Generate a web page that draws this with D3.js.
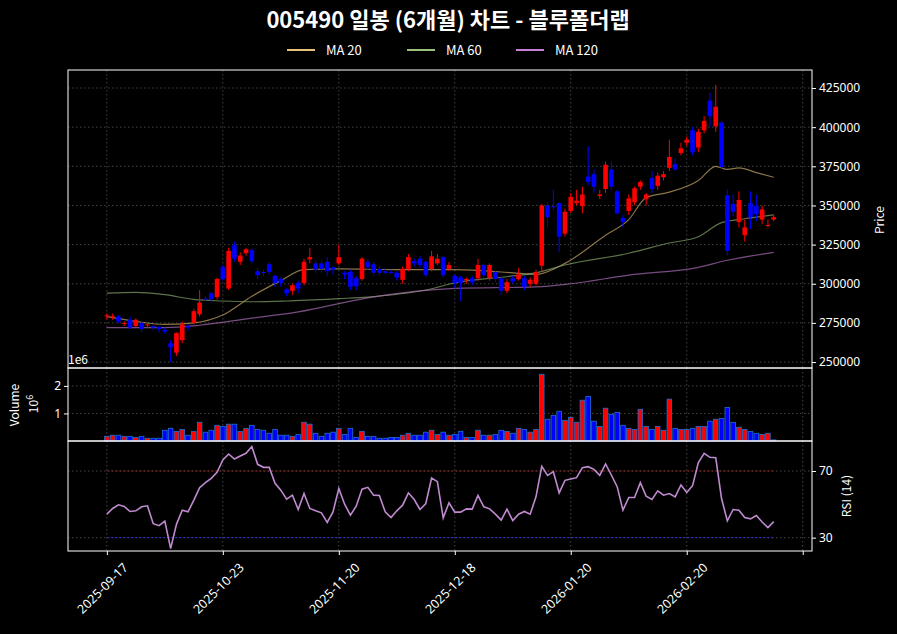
<!DOCTYPE html>
<html><head><meta charset="utf-8">
<script src="https://cdn.jsdelivr.net/npm/d3@7/dist/d3.min.js"></script>
<style>body{margin:0;background:#000}svg{display:block;font-family:"Noto Sans CJK KR","Noto Sans",sans-serif}</style>
</head><body><svg id="c" width="897" height="634"></svg>
<script>
const title="005490 일봉 (6개월) 차트 - 블루폴더랩";
const dateLabels=["2025-09-17","2025-10-23","2025-11-20","2025-12-18","2026-01-20","2026-02-20"];
const priceTicks=[250000,275000,300000,325000,350000,375000,400000,425000];
const opens=[279.5,279,279,274.5,277,273,275,273.5,273,272.5,270.5,262,256,264,273,275,280.5,290.5,294,291.5,310.5,297,324.5,314,319.5,321.5,308,307.5,312.5,305,303,296.5,295.5,300.5,300.5,315.5,313,313,314,310.5,313,307,307.5,303.5,303,314,312.5,309.5,308,307.5,307,302.5,309.5,314.5,316,314,309.5,313,317,309.5,305,304,302.5,303.5,303.5,312,303.5,307.5,303.5,295.5,303.5,303,303.5,300,300,311.5,350,349.5,351.5,332,346.5,351.5,349.5,368.5,370,356,360.5,373,359,342,346.5,352,362,354,367.5,362.5,368,374,376.5,383.5,390,398,387,398,417,400.5,403,356.5,351,339.5,331,351.5,349.5,341,337,341];
const closes=[279.8,279.2,276,275,272,277,271,274,272,271,269.5,259.5,268.5,274,272,282.5,288,290,290,303,303,321,316,318,322,314.5,305.5,307,307.5,300.5,300.5,294,299,297,314,317,309,309.5,308,309,317,306,298,298.5,316,310.5,307,307,307,307,304,309.5,317,313,312,305.5,317.5,316,305.5,312,300.5,300.5,303,301,312,305.5,312,303,295.5,301,301.5,306,298,302.5,307.5,350,342.5,349,330,346,355.5,353,357,365,362,357,376,362,345,339.5,354.5,361,365,357,360.5,369,370,381,373,386.5,392,384,397,404,407,413,374.5,321,346,353.5,336,342.5,344.5,347.5,337.5,342.5];
const highs=[281,281,280,276,279,278,276,275,274,273,272,264,269,276,274,284,296,292,295,304,312,323,327,320,323,323,310,309,314,306,304,297,300,302,316,323,315,315,317,311,325,308,309,305,317,316,314,311,310,309,308,311,319,316,318,315,321,319,318,314,306,305,304,305,316,313,313,308,305,303,305,310,305,304,309,351,352,360,352,348,358,360,362,388,373,360,378,378,360,344,357,362,366,358,372,371,372,392,380,390,394,400,399,407,422,427,404,360,357,359,341,359,357,350,341,344];
const lows=[277,277,275,273,271,272,269,272,270,269,268,250,254,262,270,274,279,289,288,290,302,296,314,312,318,313,303,305,306,298,298,292,293,294,299,313,307,307,305,306,312,303,296,296,302,309,305,305,306,306,302,300,308,311,310,304,308,312,304,308,297,289,300,299,302,304,302,301,293,294,300,302,296,298,299,308,336,347,320,330,345,350,345,363,358,354,358,360,344,336,344,350,360,350,358,360,366,372,372,382,388,382,384,396,400,397,373,318,343,336,327,335,340,338,336,340];
const volumes=[0.17,0.21,0.21,0.17,0.17,0.13,0.17,0.10,0.10,0.10,0.39,0.46,0.35,0.42,0.21,0.35,0.68,0.32,0.39,0.57,0.53,0.61,0.61,0.35,0.46,0.57,0.42,0.39,0.28,0.42,0.21,0.21,0.17,0.24,0.68,0.61,0.28,0.17,0.28,0.32,0.46,0.24,0.46,0.13,0.35,0.17,0.17,0.10,0.10,0.13,0.13,0.21,0.28,0.21,0.21,0.32,0.39,0.24,0.32,0.21,0.24,0.35,0.13,0.13,0.39,0.21,0.21,0.24,0.39,0.35,0.28,0.46,0.42,0.32,0.42,2.42,0.79,0.93,1.08,0.75,0.86,0.68,1.48,1.62,0.72,0.53,1.19,0.97,1.04,0.57,0.46,0.42,1.15,0.53,0.42,0.53,0.39,1.52,0.46,0.42,0.42,0.46,0.53,0.53,0.72,0.79,0.82,1.22,0.68,0.50,0.42,0.35,0.28,0.24,0.28,0.04];
const rsi=[44.1,47.5,49.7,48.7,45.7,46.1,48.5,49.1,38.4,37.2,39.9,23.4,38,46.5,45.5,52.5,60,63,65.6,69.2,76.6,80.2,77.2,79,80.6,84.7,74,72.2,72.2,62.6,58.5,53.1,55.5,46.9,56.5,47.5,46.1,44.9,39.2,45.5,59.5,50.1,43.5,48.9,59.1,60.2,55.5,55.3,45.5,42.1,46.1,49.5,56.9,52.9,46.9,50.5,65.8,63.6,41.9,50.9,45.3,45.3,47.3,47.1,55.3,48.5,47.3,44.1,40.5,47.1,40.3,44.1,45.7,44.1,54.5,72.8,67.4,69.6,56.9,64.4,65.2,66,72,72.6,71,67.4,74.2,67.6,60.6,46.5,54.1,54.1,63,54.9,52.9,58.1,55.5,56.5,54.5,61.6,57.1,61.2,75,80.6,78.2,78,53.5,40.1,46.9,46.5,42.1,41.3,43.3,39.4,36,39.6];
const ma20Idx=[0,5,10,15,20,25,30,34,40,50,60,70,74,79,86,90,93,97,102,105,107,109,112,115];
const ma20Val=[279,276,274,275,280,292,302,309,309.5,309,309,307,306,313,331,341,355,358.5,366,375,373,374,371,368];
const ma60Idx=[0,5,10,15,20,25,31,40,45,55,60,70,74,79,90,97,102,106,110,115];
const ma60Val=[294,294.5,293,290,289,288.5,289,290.5,291.5,296,300.5,305,307,312,319.5,326,330,339,341.5,344];
const ma120Idx=[0,10,16,25,33,45,60,74,80,90,102,107,115];
const ma120Val=[272,272,273.5,278,282,291,297,298,300,305.5,310.5,315,320];

const svg=d3.select("#c");
const L=68,R=812,pT=70,pB=368,vB=441,rB=551;
const x=d3.scaleLinear().domain([-6.7,121.6]).range([L,R]);
const yP=d3.scaleLinear().domain([246.2,436.5]).range([pB,pT]);
const yV=d3.scaleLinear().domain([0,2.65]).range([vB,pB]);
const yR=d3.scaleLinear().domain([22,88]).range([rB,vB]);
const n=closes.length, idx=d3.range(n);
const gridC="#555", txt="#fff";
function grid(y0,y1,ys,ysc){
  const g=svg.append("g");
  d3.range(0,121,20).forEach(i=>g.append("line").attr("x1",x(i)).attr("x2",x(i)).attr("y1",y0).attr("y2",y1).attr("stroke",gridC).attr("stroke-dasharray","1.5,2.5").attr("stroke-width",0.8));
  ys.forEach(v=>g.append("line").attr("x1",L).attr("x2",R).attr("y1",ysc(v)).attr("y2",ysc(v)).attr("stroke",gridC).attr("stroke-dasharray","1.5,2.5").attr("stroke-width",0.8));
}
grid(pT,pB,priceTicks,v=>yP(v/1000));
grid(pB,vB,[1,2],yV);
grid(vB,rB,[30,70],yR);
svg.append("line").attr("x1",x(0)).attr("x2",x(115)).attr("y1",yR(70)).attr("y2",yR(70)).attr("stroke","#d02020").attr("stroke-dasharray","2,2").attr("opacity",0.7);
svg.append("line").attr("x1",x(0)).attr("x2",x(115)).attr("y1",yR(30)).attr("y2",yR(30)).attr("stroke","#3030ff").attr("stroke-dasharray","2,2").attr("opacity",0.9);
const col=i=>closes[i]>=opens[i]?"#ff0000":"#0000ff";
const maLine=(I,V,c)=>svg.append("path").attr("d",d3.line().x(d=>x(d[0])).y(d=>yP(d[1])).curve(d3.curveMonotoneX)(I.map((k,j)=>[k,V[j]]))).attr("fill","none").attr("stroke",c).attr("stroke-width",1.2).attr("opacity",0.6);
maLine(ma20Idx,ma20Val,"#e6c27a");maLine(ma60Idx,ma60Val,"#9bc27a");maLine(ma120Idx,ma120Val,"#c77fd6");
const cg=svg.append("g");
idx.forEach(i=>{
  cg.append("line").attr("x1",x(i)).attr("x2",x(i)).attr("y1",yP(highs[i])).attr("y2",yP(lows[i])).attr("stroke",col(i)).attr("stroke-width",1);
  const t=yP(Math.max(opens[i],closes[i])),b=yP(Math.min(opens[i],closes[i]));
  cg.append("rect").attr("x",x(i)-2.3).attr("width",4.6).attr("y",t).attr("height",Math.max(1,b-t)).attr("fill",col(i));
});
idx.forEach(i=>svg.append("rect").attr("x",x(i)-2.3).attr("width",4.6).attr("y",yV(volumes[i])).attr("height",vB-yV(volumes[i])).attr("fill",col(i)).attr("stroke","#1f6fd0").attr("stroke-width",0.8));
svg.append("path").attr("d",d3.line().x((d,i)=>x(i)).y(d=>yR(d))(rsi)).attr("fill","none").attr("stroke","#c08ad0").attr("stroke-width",1.6);
[[pT,pB],[pB,vB],[vB,rB]].forEach(([a,b])=>svg.append("rect").attr("x",L).attr("y",a).attr("width",R-L).attr("height",b-a).attr("fill","none").attr("stroke","#fff").attr("stroke-width",1));
const ax=(g,a)=>{g.call(a);g.selectAll("path").remove();g.selectAll("line").attr("stroke","#fff");g.selectAll("text").attr("fill",txt).style("font-size","12px").style("font-family","'Noto Sans',sans-serif");return g;};
ax(svg.append("g").attr("transform",`translate(${R},0)`),d3.axisRight(d3.scaleLinear().domain(yP.domain().map(v=>v*1000)).range(yP.range())).tickValues(priceTicks).tickFormat(d3.format("d")).tickSize(4));
ax(svg.append("g").attr("transform",`translate(${L},0)`),d3.axisLeft(yV).tickValues([1,2]).tickFormat(d3.format("d")).tickSize(4));
ax(svg.append("g").attr("transform",`translate(${R},0)`),d3.axisRight(yR).tickValues([30,70]).tickSize(4));
const xg=ax(svg.append("g").attr("transform",`translate(0,${rB})`),d3.axisBottom(x).tickValues(d3.range(0,121,20)).tickFormat((d,i)=>dateLabels[i]||"").tickSize(4));
xg.selectAll("text").attr("text-anchor","end").attr("transform","translate(12,8) rotate(-45)").attr("dy","0.5em").style("font-size","12.5px");
const t=(s,xx,yy,o={})=>{const e=svg.append("text").attr("x",xx).attr("y",yy).attr("fill",txt).text(s).style("font-size",(o.fs||12)+"px").attr("text-anchor",o.a||"middle");if(o.r)e.attr("transform",`rotate(-90,${xx},${yy})`);if(o.b)e.style("font-weight","bold");return e;};
t(title,448,28,{fs:22,b:1});
t("Price",884,220,{r:1});
t("RSI (14)",851,496,{r:1});
t("Volume",19,405,{r:1});
const v6=svg.append("text").attr("transform","translate(38,404) rotate(-90)").attr("fill",txt).attr("text-anchor","middle").style("font-size","12px");
v6.append("tspan").text("10");v6.append("tspan").attr("dy",-5).style("font-size","9px").text("6");
t("1e6",68,364,{a:"start"});
const leg=[["MA 20","#e6c27a",287],["MA 60","#9bc27a",407],["MA 120","#c77fd6",516]];
leg.forEach(([s,c,lx])=>{svg.append("line").attr("x1",lx).attr("x2",lx+28).attr("y1",50).attr("y2",50).attr("stroke",c).attr("stroke-width",2);t(s,lx+39,55,{a:"start",fs:13});});
</script></body></html>
